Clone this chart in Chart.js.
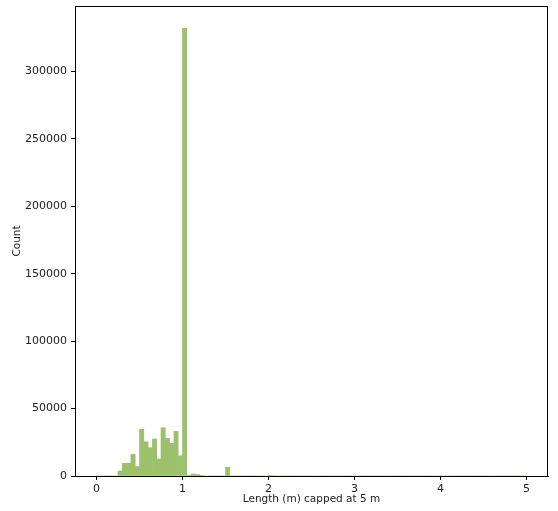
<!DOCTYPE html>
<html>
<head>
<meta charset="utf-8">
<script src="https://cdn.jsdelivr.net/npm/chart.js@4"></script>
<style>
  html, body { margin: 0; padding: 0; background: #fff; }
  #wrap { width: 558px; height: 511px; }
</style>
</head>
<body>
<div id="wrap"><canvas id="myChart"></canvas></div>
<script>
// histogram: 100 bins of 0.05 m between 0 and 5 m
const binStart = 0;
const binWidth = 0.05;
const counts = [
    0, 0, 0, 0, 0, 3700, 9400, 9400, 16000, 7000,
    34600, 25400, 21000, 27400, 12600, 35800, 27900, 24200, 33100, 15000,
    332000, 600, 1500, 1200, 500, 0, 0, 0, 0, 0,
    6500, 0, 0, 0, 0, 0, 0, 0, 0, 0,
    400, 0, 0, 0, 0, 0, 0, 0, 0, 0,
    0, 0, 0, 0, 0, 0, 0, 0, 0, 0,
    0, 0, 0, 0, 0, 0, 0, 0, 0, 0,
    0, 0, 0, 0, 0, 0, 0, 0, 0, 0,
    0, 0, 0, 0, 0, 0, 0, 0, 0, 0,
    0, 0, 0, 0, 0, 0, 0, 0, 0, 0
];
const xTicks = [0, 1, 2, 3, 4, 5];
const yTicks = [0, 50000, 100000, 150000, 200000, 250000, 300000];

const points = counts.map((c, i) => ({ x: binStart + binWidth * (i + 0.5), y: c }));

// full box around the plot like matplotlib spines
const frame = {
    id: 'frame',
    afterDraw(chart) {
        const a = chart.chartArea;
        const ctx = chart.ctx;
        ctx.save();
        ctx.strokeStyle = '#000';
        ctx.lineWidth = 1;
        ctx.strokeRect(a.left + 0.5, a.top + 0.5, a.right - a.left - 1, a.bottom - a.top);
        ctx.restore();
    }
};

Chart.defaults.font.family = 'DejaVu Sans';
Chart.defaults.font.size = 11;
Chart.defaults.color = '#222';

new Chart(document.getElementById('myChart'), {
    type: 'bar',
    data: {
        datasets: [{
            data: points,
            backgroundColor: '#9dc16b',
            borderWidth: 0,
            barPercentage: 1,
            categoryPercentage: 1
        }]
    },
    options: {
        responsive: true,
        maintainAspectRatio: false,
        animation: false,
        layout: { padding: { left: 0, top: 6, right: 10, bottom: 0 } },
        plugins: { legend: { display: false }, tooltip: { enabled: false } },
        scales: {
            x: {
                type: 'linear',
                min: -0.25,
                max: 5.25,
                offset: false,
                afterBuildTicks: s => { s.ticks = xTicks.map(v => ({ value: v })); },
                afterFit: s => { s.height = 35; s.paddingLeft = 0; s.paddingRight = 0; },
                ticks: { padding: 3, callback: v => String(v), maxRotation: 0, autoSkip: false },
                grid: { drawOnChartArea: false, offset: false, tickLength: 4, color: '#000' },
                border: { color: '#000' },
                title: { display: true, text: 'Length (m) capped at 5 m', font: { size: 10.5 }, padding: { top: 0, bottom: 5 } }
            },
            y: {
                min: 0,
                max: 348600,
                afterBuildTicks: s => { s.ticks = yTicks.map(v => ({ value: v })); },
                afterFit: s => { s.width = 75; s.paddingTop = 0; s.paddingBottom = 0; },
                ticks: { padding: 4, callback: v => String(v) },
                grid: { drawOnChartArea: false, tickLength: 4, color: '#000' },
                border: { color: '#000' },
                title: { display: true, text: 'Count', font: { size: 10.5 }, padding: { top: 11, bottom: 0 } }
            }
        }
    },
    plugins: [frame]
});
</script>
</body>
</html>
